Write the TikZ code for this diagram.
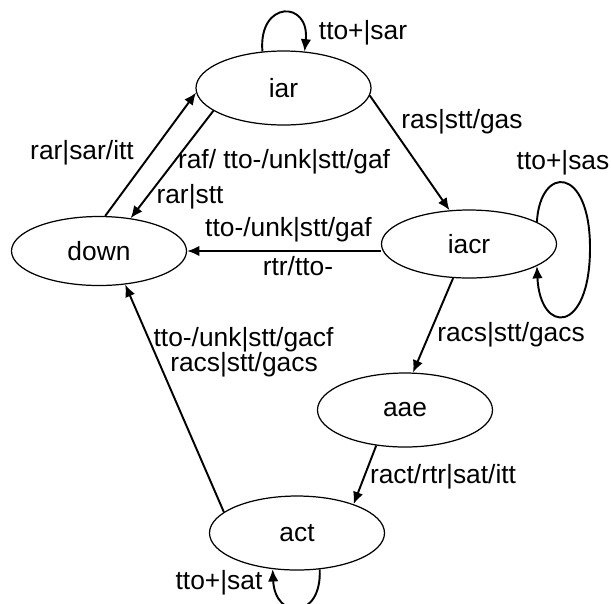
\documentclass[tikz,border=0pt]{standalone}
\usepackage{fontspec}
\setmainfont{Liberation Sans}
\usepackage{tikz}
\usetikzlibrary{arrows.meta,shapes.geometric,calc}
\tikzset{FSM style/.style={>={Latex[length=7pt,width=6pt]},every node/.style={font=\fontsize{15}{18}\selectfont}},
	fsmstate/.style={ellipse,draw,line width=0.7pt,minimum width=3.5cm,minimum height=1.48cm,inner sep=0},
	trans/.style={->,line width=1.1pt}}

\begin{document}
\begin{tikzpicture}[FSM style]
	\useasboundingbox (0,0) rectangle (12.22,-12.06);

	% states
	\node [fsmstate] (iar) at (5.67, -1.76) {iar};
	\node [fsmstate, minimum height=1.38cm] (down) at (1.98, -5.02) {down};
	\node [fsmstate, minimum height=1.36cm] (iacr) at (9.38, -4.88) {iacr};
	\node [fsmstate] (aae) at (8.10, -8.20) {aae};
	\node [fsmstate] (act) at (5.94, -10.66) {act};

	% transitions
	\draw [trans] (iar.120) .. controls (5.16, 0) and (6.2, 0) .. (iar.60);
	\node [] (sar) at (7.26, -0.66) {tto+|sar};

	\draw [trans] (down.80) -- (iar.183);
	\node [] (rarsar) at (1.64, -3.06) {rar|sar/itt};

	\draw [trans] (iar.198) -- (down.46);
	\node [] (raf) at (5.68, -3.24) {raf/ tto-/unk|stt/gaf};
	\node [] (rarstt) at (3.80, -3.94) {rar|stt};

	\draw [trans] (iar.355) -- (iacr.120);
	\node [] (ras) at (9.24, -2.44) {ras|stt/gas};

	\coordinate (sasR) at (11.8, -4.96);
	\draw [trans] (iacr.18) .. controls (10.8, -3.3) and (11.8, -3.3) .. (sasR)
		.. controls (11.8, -6.7) and (10.8, -6.7) .. (iacr.-18);
	\node [] (sas) at (11.26, -3.26) {tto+|sas};

	\draw [trans] (iacr.west |- down.east) -- (down.east);
	\node [] (gaf) at (5.77, -4.60) {tto-/unk|stt/gaf};
	\node [] (rtr) at (5.96, -5.32) {rtr/tto-};

	\draw [trans] (iacr.245) -- (aae.78);
	\node [] (racs) at (10.22, -6.70) {racs|stt/gacs};

	\draw [trans] (aae.231) -- (act.27);
	\node [] (ract) at (8.86, -9.54) {ract/rtr|sat/itt};

	\draw [trans] (act.164) -- (down.308);
	\node [] (gacf) at (4.87, -6.80) {tto-/unk|stt/gacf};
	\node [] (racsb) at (4.88, -7.30) {racs|stt/gacs};

	\draw [trans] (act.302) .. controls (6.44, -12.4) and (5.5, -12.4) .. (act.236);
	\node [] (sat) at (4.38, -11.66) {tto+|sat};
\end{tikzpicture}
\end{document}
